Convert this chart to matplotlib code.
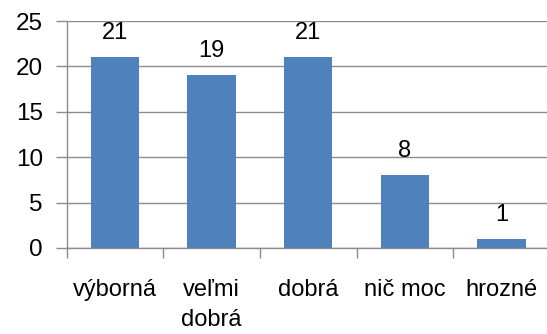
import numpy as np
import matplotlib.pyplot as plt

kategorie = ['výborná', 'veľmi\ndobrá', 'dobrá', 'nič moc', 'hrozné']
pocty = [21, 19, 21, 8, 1]
y_ticks = [0, 5, 10, 15, 20, 25]

plt.rcParams['font.family'] = ['Liberation Sans', 'DejaVu Sans']
seda = '#8c8c8c'

fig = plt.figure(figsize=(5.47, 3.34), dpi=100)
ax = fig.add_axes([66.5 / 547, 86 / 334, (550 - 66.5) / 547, 227 / 334])

x = np.arange(len(kategorie))
stlpce = ax.bar(x, pocty, width=0.5, color='#4f81bd', zorder=3)

for xi, v in zip(x, pocty):
    ax.annotate(str(v), (xi, v), xytext=(0, 9.5), textcoords='offset points',
                ha='center', va='bottom', fontsize=17)

ax.set_xlim(-0.5, 4.5)
ax.set_ylim(0, 25)
ax.set_yticks(y_ticks)
ax.yaxis.grid(True, color=seda, linewidth=1.0, zorder=0)

ax.set_xticks(x)
ax.set_xticklabels(kategorie, fontsize=17, linespacing=1.5, va='top')
ax.set_xticks(np.arange(-0.5, 5, 1.0), minor=True)
ax.tick_params(axis='x', which='major', length=0, pad=22)
ax.tick_params(axis='x', which='minor', length=7, width=1, color=seda, direction='out')
ax.tick_params(axis='y', length=8, width=1, color=seda, labelsize=17.5, pad=9)

for s in ['top', 'right']:
    ax.spines[s].set_visible(False)
for s in ['left', 'bottom']:
    ax.spines[s].set_color(seda)
    ax.spines[s].set_linewidth(1.0)
    ax.spines[s].set_zorder(4)

fig.savefig('out.png', dpi=100)
